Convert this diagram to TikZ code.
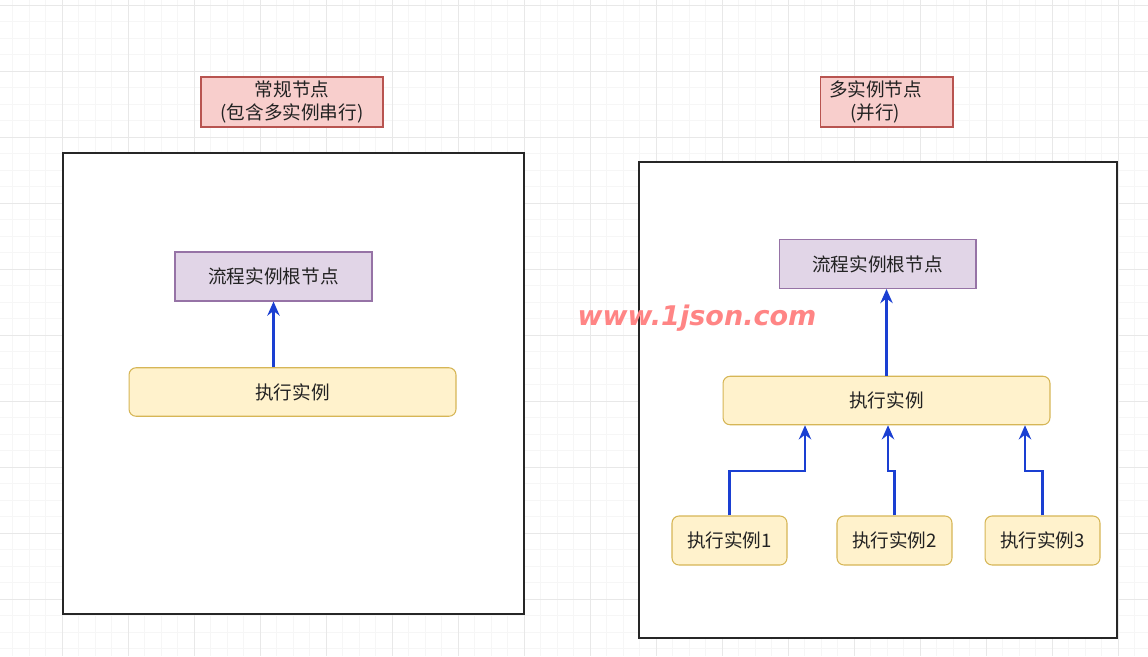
\documentclass[tikz,border=0pt]{standalone}
\usepackage{fontspec}
\setmainfont{Noto Sans CJK SC}
\newfontfamily\wmfont{DejaVu Sans}
\usetikzlibrary{positioning,arrows.meta}
\definecolor{majgrid}{HTML}{E8E8E8}
\definecolor{mingrid}{HTML}{F6F6F6}
\definecolor{titlefill}{HTML}{F8CECC}
\definecolor{titleline}{HTML}{B85450}
\definecolor{rootfill}{HTML}{E1D5E7}
\definecolor{rootline}{HTML}{9673A6}
\definecolor{execfill}{HTML}{FFF2CC}
\definecolor{execline}{HTML}{D6B656}
\definecolor{flowblue}{HTML}{1A3FD2}
\definecolor{wmred}{HTML}{FF8585}
\definecolor{txt}{HTML}{222222}
\begin{document}
\begin{tikzpicture}[x=0.02cm,y=-0.02cm,
  every node/.style={font=\fontsize{10.6}{13}\selectfont,text=txt},
  titlebox/.style={draw=titleline,fill=titlefill,line width=0.6pt,align=center,inner sep=0pt,minimum height=1cm},
  rootbox/.style={draw=rootline,fill=rootfill,line width=0.6pt,minimum width=3.94cm,minimum height=0.98cm},
  execbox/.style={draw=execline,fill=execfill,line width=0.6pt,rounded corners=4pt,minimum height=0.97cm},
  frame/.style={draw=black!85,fill=white,line width=0.8pt},
  flow/.style={draw=flowblue,line width=1.4pt,-{Stealth[length=8pt,width=7pt]}}]
\useasboundingbox[fill=white] (0,0) rectangle (1148,656);
% background grid
\foreach \g in {-4,12.5,...,1150} \draw[mingrid,line width=0.4pt] (\g,0) -- (\g,656);
\foreach \g in {5,21.5,...,660} \draw[mingrid,line width=0.4pt] (0,\g) -- (1148,\g);
\foreach \g in {-4,62,...,1150} \draw[majgrid,line width=0.5pt] (\g,0) -- (\g,656);
\foreach \g in {5,71,...,660} \draw[majgrid,line width=0.5pt] (0,\g) -- (1148,\g);

% two frames
\draw[frame] (63,153) rectangle (524,614);
\draw[frame] (639,162) rectangle (1117,638);

% titles
\node[titlebox,minimum width=3.64cm] (t1) at (292,102) {常规节点\\(包含多实例串行)};
\node[titlebox,minimum width=2.66cm,text width=2.3cm] (t2) at (886.5,102) {多实例节点\rule{0.44cm}{0pt}\\(并行)\rule{0.45cm}{0pt}};

% left: serial
\node[rootbox] (r1) at (273.5,276.5) {流程实例根节点};
\node[execbox,minimum width=6.54cm] (x1) at (292.5,392) {执行实例};
\draw[flow] (r1.south |- x1.north) -- (r1.south);

% right: parallel
\node[rootbox] (r2) at (877.5,264) {流程实例根节点};
\node[execbox,minimum width=6.54cm] (x2) at (886.5,400.5) {执行实例};
\draw[flow] (x2.north) -- (x2.north |- r2.south);
\node[execbox,minimum width=2.3cm,minimum height=0.98cm] (s1) at (729.5,540.5) {执行实例1};
\node[execbox,minimum width=2.3cm,minimum height=0.98cm] (s2) at (894.5,540.5) {执行实例2};
\node[execbox,minimum width=2.3cm,minimum height=0.98cm] (s3) at (1042.5,540.5) {执行实例3};
\coordinate (c1) at (805,471);
\coordinate (c2) at (888,471);
\coordinate (c3) at (1025,471);
\draw[flow] (s1.north) |- (c1) -- (c1 |- x2.south);
\draw[flow] (s2.north) |- (c2) -- (c2 |- x2.south);
\draw[flow] (s3.north) |- (c3) -- (c3 |- x2.south);

% watermark
\node[font=\wmfont\bfseries\itshape\fontsize{15.4}{18}\selectfont,text=wmred] (wm) at (697,318) {www.1json.com};
\end{tikzpicture}
\end{document}
